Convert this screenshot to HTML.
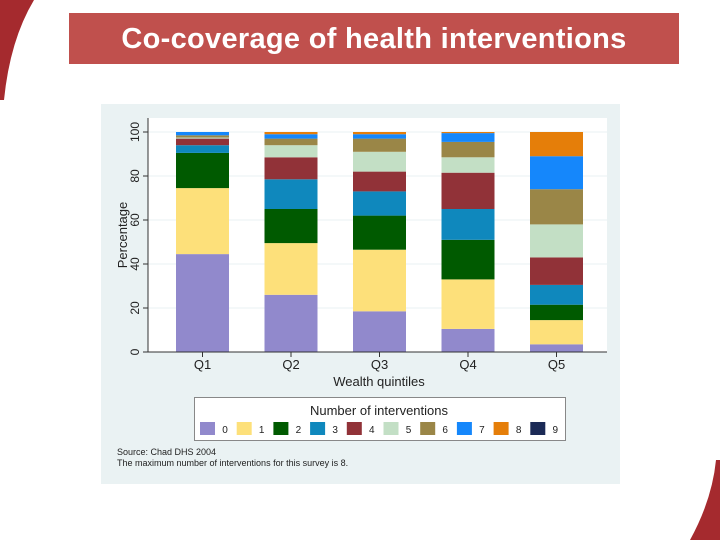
<!DOCTYPE html>
<html><head><meta charset="utf-8"><style>
body{margin:0;width:720px;height:540px;background:#fff;position:relative;overflow:hidden;font-family:"Liberation Sans",sans-serif}
#hdr{position:absolute;left:69px;top:13px;width:610px;height:51px;background:#c0504d;color:#fff;font-size:29px;font-weight:bold;text-align:center;line-height:53px;font-family:"Liberation Sans",sans-serif;letter-spacing:0.3px}
</style></head><body>
<svg width="720" height="540" style="position:absolute;left:0;top:0">
<path d="M0 0 L34 0 Q10 40 4 100 L0 100 Z" fill="#a52a2e"/>
<path d="M720 540 L690 540 Q712 500 716 460 L720 460 Z" fill="#a52a2e"/>
</svg>
<div id="hdr">Co-coverage of health interventions</div>
<svg id="chart" width="720" height="540" style="position:absolute;left:0;top:0"></svg>
<script>
const categories=["Q1","Q2","Q3","Q4","Q5"];
const s0=[44.5,26,18.5,10.5,3.5];
const s1=[30,23.5,28,22.5,11];
const s2=[16,15.5,15.5,18,7];
const s3=[3.5,13.5,11,14,9];
const s4=[3,10,9,16.5,12.5];
const s5=[0.5,5.5,9,7,15];
const s6=[1,3,6,7,16];
const s7=[1.5,2,2,4,15];
const s8=[0,1,1,0.5,11];
const s9=[0,0,0,0,0];
const series=[s0,s1,s2,s3,s4,s5,s6,s7,s8,s9];
const colors=["#9189cc","#fde07a","#005a00","#0f88bd","#913238","#c3dfc5","#9a8647","#1587fb","#e57e09","#1b2a56"];
const yTicks=[0,20,40,60,80,100];
const NS="http://www.w3.org/2000/svg";
const svg=document.getElementById("chart");
function mk(t,a,p){const e=document.createElementNS(NS,t);for(const k in a)e.setAttribute(k,a[k]);(p||svg).appendChild(e);return e;}
const X0=148,X1=607,Y0=352,Y1=132;
const y=v=>Y0-(v/100)*(Y0-Y1);
const xc=i=>202.5+88.5*i;
const bw=53;
let e=mk("rect",{x:101,y:104,width:519,height:380,fill:"#eaf2f3"});


e=mk("rect",{x:X0,y:118,width:X1-X0,height:Y0-118,fill:"#fff"});


yTicks.forEach(t=>{
 const g=mk("line",{x1:X0,x2:X1,y1:y(t),y2:y(t),stroke:"#eaf2f3","stroke-width":1});
 
 
 const tk=mk("line",{x1:X0-5,x2:X0,y1:y(t),y2:y(t),stroke:"#333"});
 
 
 const lb=mk("text",{x:0,y:0,transform:`translate(${X0-9},${y(t)}) rotate(-90)`,"text-anchor":"middle","font-size":12,fill:"#222"});
 lb.textContent=t;
 
 
});
categories.forEach((c,i)=>{
 let acc=0;
 series.forEach((s,k)=>{
  const v=s[i]; if(v<=0)return;
  const r=mk("rect",{x:xc(i)-bw/2,y:y(acc+v),width:bw,height:y(acc)-y(acc+v),fill:colors[k]});
  
  
  acc+=v;
 });
 const tk=mk("line",{x1:xc(i),x2:xc(i),y1:Y0,y2:Y0+5,stroke:"#333"});
 
 
 const lb=mk("text",{x:xc(i),y:Y0+17,"text-anchor":"middle","font-size":13,fill:"#222"});
 lb.textContent=c;
 
 
});
e=mk("line",{x1:X0,x2:X0,y1:118,y2:Y0,stroke:"#333"});


e=mk("line",{x1:X0,x2:X1,y1:Y0,y2:Y0,stroke:"#333"});


e=mk("text",{x:0,y:0,transform:"translate(127,235) rotate(-90)","text-anchor":"middle","font-size":13,fill:"#222"});
e.textContent="Percentage";


e=mk("text",{x:379,y:386,"text-anchor":"middle","font-size":13,fill:"#222"});
e.textContent="Wealth quintiles";


e=mk("rect",{x:194.5,y:397.5,width:371,height:43,fill:"#fff",stroke:"#888"});


e=mk("text",{x:379,y:415,"text-anchor":"middle","font-size":13,fill:"#222"});
e.textContent="Number of interventions";


colors.forEach((c,k)=>{
 const lx=200+k*36.7;
 const r=mk("rect",{x:lx,y:422,width:15,height:13,fill:c});
 
 
 const t=mk("text",{x:lx+25,y:433,"text-anchor":"middle","font-size":10,fill:"#222"});
 t.textContent=k;
 
 
});
e=mk("text",{x:117,y:455,"font-size":9,fill:"#222"});
e.textContent="Source: Chad DHS 2004";


e=mk("text",{x:117,y:466,"font-size":9,fill:"#222"});
e.textContent="The maximum number of interventions for this survey is 8.";


</script>
</body></html>
